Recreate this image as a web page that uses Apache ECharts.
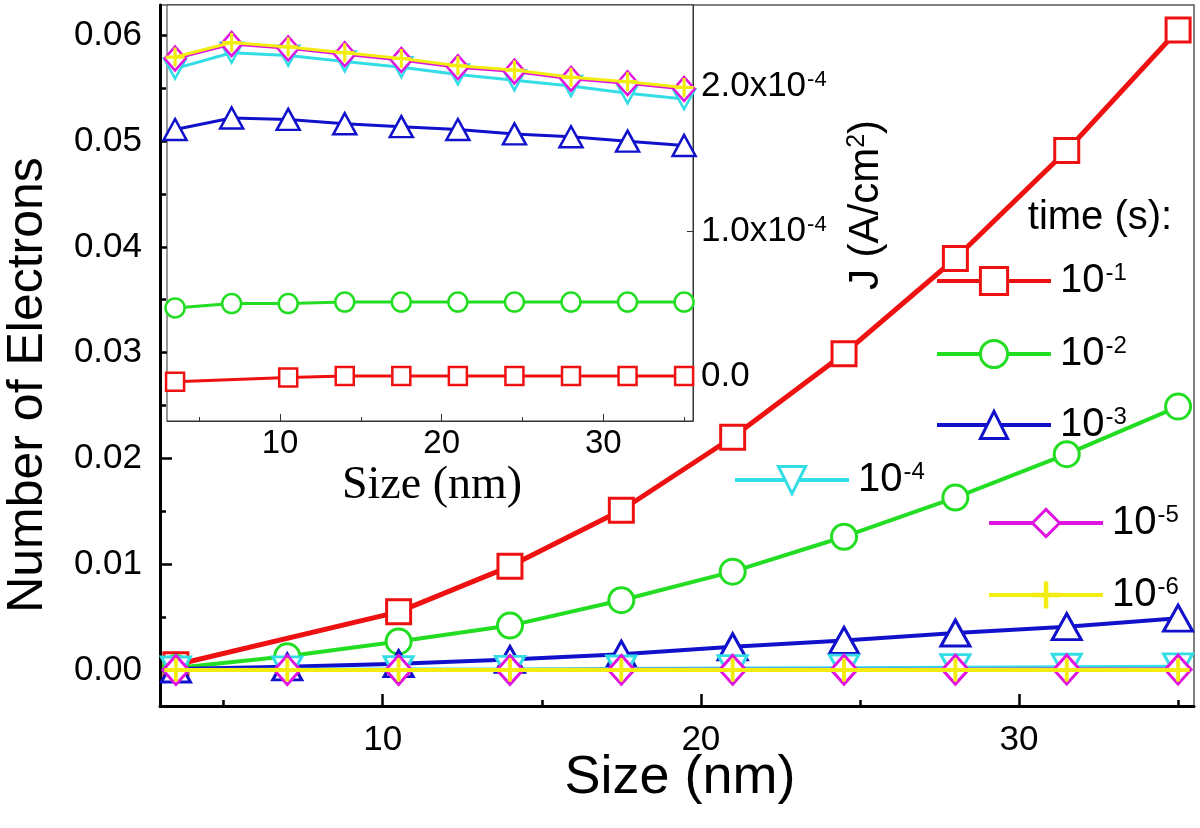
<!DOCTYPE html>
<html>
<head>
<meta charset="utf-8">
<script src="https://cdn.jsdelivr.net/npm/echarts@6/dist/echarts.min.js"></script>
<style>
  html, body { margin: 0; padding: 0; background: #fff; }
  #chart { width: 1200px; height: 828px; }
</style>
</head>
<body>
<div id="chart"></div>
<script>
// ---------------- DATA ----------------
const sizes = [3.5, 7, 10.5, 14, 17.5, 21, 24.5, 28, 31.5, 35];           // Size (nm)
const timeExponents = ['-1', '-2', '-3', '-4', '-5', '-6'];                 // time (s) = 10^exp

// Main plot: Number of Electrons
const electrons_t1 = [0.0005, null, 0.0055, 0.0098, 0.0151, 0.0220, 0.0299, 0.0389, 0.0491, 0.0605];
const electrons_t2 = [0.0002, 0.0013, 0.0027, 0.0042, 0.0066, 0.0093, 0.0126, 0.0163, 0.0204, 0.0249];
const electrons_t3 = [0.0001, 0.0003, 0.0006, 0.0010, 0.0015, 0.0022, 0.0028, 0.0035, 0.0041, 0.0049];
const electrons_t4 = [0.00000, 0.00002, 0.00004, 0.00006, 0.00010, 0.00014, 0.00018, 0.00022, 0.00026, 0.00030];
const electrons_t5 = [0.000000, 0.000003, 0.000006, 0.000010, 0.000015, 0.000022, 0.000028, 0.000035, 0.000041, 0.000048];
const electrons_t6 = [0.0000000, 0.0000003, 0.0000006, 0.0000010, 0.0000015, 0.0000022, 0.0000028, 0.0000035, 0.0000041, 0.0000048];

// Inset: J (A/cm^2), in units of 1e-4
const current_t1 = [-0.04, null, -0.01, 0.00, 0.00, 0.00, 0.00, 0.00, 0.00, 0.00];
const current_t2 = [0.47, 0.50, 0.50, 0.51, 0.51, 0.51, 0.51, 0.51, 0.51, 0.51];
const current_t3 = [1.70, 1.78, 1.77, 1.74, 1.72, 1.70, 1.67, 1.65, 1.62, 1.59];
const current_t4 = [2.12, 2.23, 2.21, 2.17, 2.13, 2.08, 2.04, 2.00, 1.95, 1.91];
const current_t5 = [2.19, 2.29, 2.26, 2.22, 2.18, 2.13, 2.10, 2.05, 2.02, 1.98];
const current_t6 = [2.20, 2.30, 2.27, 2.23, 2.19, 2.14, 2.11, 2.06, 2.03, 1.99];

// Tick values
const mainXTicks = [10, 20, 30];
const mainXMinor = [5, 15, 25, 35];
const mainYTicks = [0, 0.01, 0.02, 0.03, 0.04, 0.05, 0.06];
const mainYMinor = [0.005, 0.015, 0.025, 0.035, 0.045, 0.055];
const insetXTicks = [10, 20, 30];
const insetXMinor = [5, 15, 25, 35];
const insetYTicks = [0, 1, 2];

// ---------------- STYLE ----------------
const SANS = '"Liberation Sans", Arial, Helvetica, sans-serif';
const SERIF = '"Liberation Serif", "Times New Roman", serif';
const colors = ['#ee1111', '#22dd22', '#1111cc', '#33dde6', '#e014e0', '#f2ec10'];
const PLUS = 'path://M5,0H7V5H12V7H7V12H5V7H0V5H5Z';
const DOWN_TRI = 'path://M0,0L20,0L10,18Z';
const mainSymbols = [
  { symbol: 'rect', size: 24 },
  { symbol: 'circle', size: 25 },
  { symbol: 'triangle', size: [29, 26] },
  { symbol: DOWN_TRI, size: [29, 26] },
  { symbol: 'diamond', size: [26, 29] },
  { symbol: PLUS, size: 23 }
];
const insetSymbols = [
  { symbol: 'rect', size: 18 },
  { symbol: 'circle', size: 19 },
  { symbol: 'triangle', size: [23, 21] },
  { symbol: DOWN_TRI, size: [22, 20] },
  { symbol: 'diamond', size: [21, 24] },
  { symbol: PLUS, size: 19 }
];

const mainData = [electrons_t1, electrons_t2, electrons_t3, electrons_t4, electrons_t5, electrons_t6];
const insetData = [current_t1, current_t2, current_t3, current_t4, current_t5, current_t6];
const zip = arr => sizes.map((s, i) => [s, arr[i]]);
const seriesName = e => '10' + e;

const itemStyleFor = (k, bw) => k === 5
  ? { color: colors[k], borderColor: colors[k], borderWidth: 0 }
  : { color: '#fff', borderColor: colors[k], borderWidth: bw };

const series = [];
mainData.forEach((arr, k) => {
  series.push({
    name: seriesName(timeExponents[k]),
    type: 'line',
    xAxisIndex: 0, yAxisIndex: 0,
    data: zip(arr),
    connectNulls: true,
    symbol: mainSymbols[k].symbol,
    symbolSize: mainSymbols[k].size,
    showAllSymbol: true,
    lineStyle: { color: colors[k], width: k === 0 ? 5 : 4 },
    itemStyle: itemStyleFor(k, 3),
    emphasis: { disabled: true },
    z: 2 + k
  });
});
insetData.forEach((arr, k) => {
  series.push({
    name: 'J' + timeExponents[k],
    type: 'line',
    xAxisIndex: 2, yAxisIndex: 2,
    data: zip(arr),
    connectNulls: true,
    symbol: insetSymbols[k].symbol,
    symbolSize: insetSymbols[k].size,
    showAllSymbol: true,
    lineStyle: { color: colors[k], width: 3 },
    itemStyle: itemStyleFor(k, 2.5),
    emphasis: { disabled: true },
    z: 20 + k
  });
});

// legend placement (icon left x, icon center y)
const legendPos = [
  [935, 278], [935, 351], [935, 422], [733, 477], [987, 520], [987, 592]
];
const LEG_H = 34;
const supRich = {
  n: { fontSize: 40, fontFamily: SANS, color: '#000', lineHeight: 40, verticalAlign: 'bottom', padding: [0, 0, 0, 4] },
  s: { fontSize: 24, fontFamily: SANS, color: '#000', lineHeight: 24, verticalAlign: 'top', padding: [0, 0, 24, 1] }
};
const legends = legendPos.map((p, k) => ({
  data: [seriesName(timeExponents[k])],
  left: p[0], top: p[1] - LEG_H / 2,
  padding: 0,
  itemWidth: 114, itemHeight: LEG_H,
  selectedMode: false,
  lineStyle: { width: 4 },
  itemStyle: k === 5 ? { borderWidth: 0 } : { borderWidth: 3 },
  formatter: name => '{n|10}{s|' + name.slice(2) + '}',
  textStyle: { rich: supRich }
}));

const axisFont = { fontSize: 35, fontFamily: SANS, color: '#000' };

const option = {
  animation: false,
  backgroundColor: '#fff',
  textStyle: { fontFamily: SANS },
  grid: [
    { left: 160, top: 5, right: 6, bottom: 122, show: true, borderColor: '#555', borderWidth: 1.5, backgroundColor: 'transparent', containLabel: false },
    { left: 167, top: 5, width: 526, height: 416, show: true, borderColor: '#333', borderWidth: 1, backgroundColor: '#fff', containLabel: false, z: 10 }
  ],
  xAxis: [
    { type: 'value', gridIndex: 0, min: 3, max: 35.5, position: 'bottom',
      axisLine: { onZero: false, lineStyle: { color: '#000', width: 3 } },
      axisTick: { inside: true, length: 12, customValues: mainXTicks, lineStyle: { color: '#000', width: 2.5 } },
      axisLabel: Object.assign({ customValues: mainXTicks, margin: 17 }, axisFont),
      splitLine: { show: false } },
    { type: 'value', gridIndex: 0, min: 3, max: 35.5, position: 'bottom',
      axisLine: { show: false, onZero: false },
      axisTick: { inside: true, length: 6, customValues: mainXMinor, lineStyle: { color: '#000', width: 2.5 } },
      axisLabel: { show: false }, splitLine: { show: false } },
    { type: 'value', gridIndex: 1, min: 3, max: 35.55, position: 'bottom', z: 12,
      axisLine: { onZero: false, lineStyle: { color: '#333', width: 1 } },
      axisTick: { inside: true, length: 7, customValues: insetXTicks, lineStyle: { color: '#333', width: 1 } },
      axisLabel: Object.assign({ customValues: insetXTicks, margin: 6 }, axisFont, { fontSize: 33 }),
      splitLine: { show: false } },
    { type: 'value', gridIndex: 1, min: 3, max: 35.55, position: 'bottom', z: 12,
      axisLine: { show: false, onZero: false },
      axisTick: { inside: true, length: 4, customValues: insetXMinor, lineStyle: { color: '#333', width: 1 } },
      axisLabel: { show: false }, splitLine: { show: false } }
  ],
  yAxis: [
    { type: 'value', gridIndex: 0, min: -0.0034, max: 0.06286, position: 'left',
      axisLine: { show: true, onZero: false, lineStyle: { color: '#000', width: 3 } },
      axisTick: { show: true, inside: true, length: 12, customValues: mainYTicks, lineStyle: { color: '#000', width: 2.5 } },
      axisLabel: Object.assign({ customValues: mainYTicks, margin: 18, formatter: v => v.toFixed(2) }, axisFont),
      splitLine: { show: false } },
    { type: 'value', gridIndex: 0, min: -0.0034, max: 0.06286, position: 'left',
      axisLine: { show: false, onZero: false },
      axisTick: { show: true, inside: true, length: 6, customValues: mainYMinor, lineStyle: { color: '#000', width: 2.5 } },
      axisLabel: { show: false }, splitLine: { show: false } },
    { type: 'value', gridIndex: 1, min: -0.31, max: 2.559, position: 'right', z: 12,
      axisLine: { show: true, onZero: false, lineStyle: { color: '#333', width: 1 } },
      axisTick: { show: true, inside: true, length: 6, customValues: insetYTicks, lineStyle: { color: '#333', width: 1 } },
      axisLabel: {
        customValues: insetYTicks, margin: 8,
        formatter: v => v === 0 ? '{a|0.0}' : '{a|' + v.toFixed(1) + 'x10}{s|-4}',
        rich: {
          a: { fontSize: 35, fontFamily: SANS, color: '#000', lineHeight: 35, verticalAlign: 'bottom' },
          s: { fontSize: 22, fontFamily: SANS, color: '#000', lineHeight: 22, verticalAlign: 'top', padding: [0, 0, 22, 1] }
        }
      },
      splitLine: { show: false } }
  ],
  legend: legends,
  graphic: [
    { type: 'text', x: 28, y: 385, rotation: Math.PI / 2, z: 50,
      style: { text: 'Number of Electrons', fontSize: 50, fontFamily: SANS, fill: '#000', align: 'center', verticalAlign: 'middle', textAlign: 'center', textVerticalAlign: 'middle' } },
    { type: 'text', x: 680, y: 778, z: 50,
      style: { text: 'Size (nm)', fontSize: 54, fontFamily: SANS, fill: '#000', align: 'center', verticalAlign: 'middle', textAlign: 'center', textVerticalAlign: 'middle' } },
    { type: 'text', x: 432, y: 486, z: 50,
      style: { text: 'Size (nm)', fontSize: 46, fontFamily: SERIF, fill: '#000', align: 'center', verticalAlign: 'middle', textAlign: 'center', textVerticalAlign: 'middle' } },
    { type: 'text', x: 866, y: 205, rotation: Math.PI / 2, z: 50,
      style: { text: '{a|J (A/cm}{s|2}{a|)}', align: 'center', verticalAlign: 'middle', textAlign: 'center', textVerticalAlign: 'middle',
        rich: {
          a: { fontSize: 42, fontFamily: SANS, fill: '#000', color: '#000', lineHeight: 42, verticalAlign: 'bottom' },
          s: { fontSize: 25, fontFamily: SANS, fill: '#000', color: '#000', lineHeight: 25, verticalAlign: 'top', padding: [0, 0, 22, 0] }
        } } },
    { type: 'text', x: 1100, y: 218, z: 50,
      style: { text: 'time (s):', fontSize: 40, fontFamily: SANS, fill: '#000', align: 'center', verticalAlign: 'middle', textAlign: 'center', textVerticalAlign: 'middle' } }
  ],
  series: series
};

const chart = echarts.init(document.getElementById('chart'), null, { renderer: 'canvas' });
chart.setOption(option);
</script>
</body>
</html>
